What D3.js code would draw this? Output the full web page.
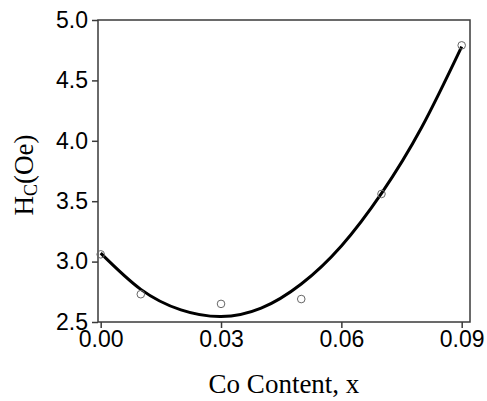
<!DOCTYPE html>
<html>
<head>
<meta charset="utf-8">
<script src="https://cdn.jsdelivr.net/npm/d3@7"></script>
<style>
  html, body { margin: 0; padding: 0; background: #fff; }
  svg { display: block; }
</style>
</head>
<body>
<svg id="chart" width="487" height="401"></svg>
<script>
// measured points
const coContent = [0.00, 0.01, 0.03, 0.05, 0.07, 0.09];
const hcValues = [3.06, 2.73, 2.65, 2.69, 3.56, 4.79];

// fitted curve at each 0.01
const fitX = [0.00, 0.01, 0.02, 0.03, 0.04, 0.05, 0.06, 0.07, 0.08, 0.09];
const fitY = [3.07, 2.77, 2.60, 2.545, 2.615, 2.815, 3.13, 3.565, 4.11, 4.78];

const xTicks = [0.00, 0.03, 0.06, 0.09];
const yTicks = [2.5, 3.0, 3.5, 4.0, 4.5, 5.0];

const plotLeft = 98, plotRight = 470, plotTop = 20, plotBottom = 322;
const axisColor = "#3a3a3a";

const svg = d3.select("#chart");

var x = d3.scaleLinear()
  .domain([-0.00067, 0.09207])
  .range([plotLeft, plotRight]);

var y = d3.scaleLinear()
  .domain([2.5, 5.0])
  .range([plotBottom, plotTop]);

// axes
var xAxis = svg.append("g")
  .attr("transform", `translate(0,${plotBottom})`)
  .call(d3.axisBottom(x).tickValues(xTicks).tickFormat(d3.format(".2f"))
    .tickSizeInner(6).tickSizeOuter(0).tickPadding(3));

var yAxis = svg.append("g")
  .attr("transform", `translate(${plotLeft},0)`)
  .call(d3.axisLeft(y).tickValues(yTicks).tickFormat(d3.format(".1f"))
    .tickSizeInner(6).tickSizeOuter(0).tickPadding(4));

[xAxis, yAxis].forEach(function(a) {
  a.select(".domain").remove();
  a.selectAll(".tick line").attr("stroke", axisColor).attr("stroke-width", 1.5);
  a.selectAll(".tick text")
    .attr("fill", "#000")
    .style("font-family", "'Liberation Sans', Arial, sans-serif")
    .style("font-size", "23px");
});

// frame
svg.append("rect")
  .attr("x", plotLeft)
  .attr("y", plotTop)
  .attr("width", plotRight - plotLeft)
  .attr("height", plotBottom - plotTop)
  .attr("fill", "none")
  .attr("stroke", axisColor)
  .attr("stroke-width", 1.5);

// fit curve
var fitData = fitX.map(function(d, i) { return [d, fitY[i]]; });
var line = d3.line()
  .x(d => x(d[0]))
  .y(d => y(d[1]))
  .curve(d3.curveNatural);

svg.append("path")
  .datum(fitData)
  .attr("d", line)
  .attr("fill", "none")
  .attr("stroke", "#000")
  .attr("stroke-width", 3);

// data points
svg.append("g")
  .selectAll("circle")
  .data(coContent)
  .enter()
  .append("circle")
  .attr("cx", d => x(d))
  .attr("cy", (d, i) => y(hcValues[i]))
  .attr("r", 3.8)
  .attr("fill", "none")
  .attr("stroke", "#666")
  .attr("stroke-width", 1);

// labels
svg.append("text")
  .attr("x", (plotLeft + plotRight) / 2)
  .attr("y", 393)
  .attr("text-anchor", "middle")
  .style("font-family", "'Liberation Serif', 'Times New Roman', serif")
  .style("font-size", "27px")
  .text("Co Content, x");

var ylab = svg.append("text")
  .attr("transform", "translate(33,175) rotate(-90)")
  .attr("text-anchor", "middle")
  .style("font-family", "'Liberation Serif', 'Times New Roman', serif")
  .style("font-size", "27px");
ylab.append("tspan").text("H");
ylab.append("tspan").attr("dy", 4).style("font-size", "18px").text("C");
ylab.append("tspan").attr("dy", -4).text("(Oe)");
</script>
</body>
</html>
